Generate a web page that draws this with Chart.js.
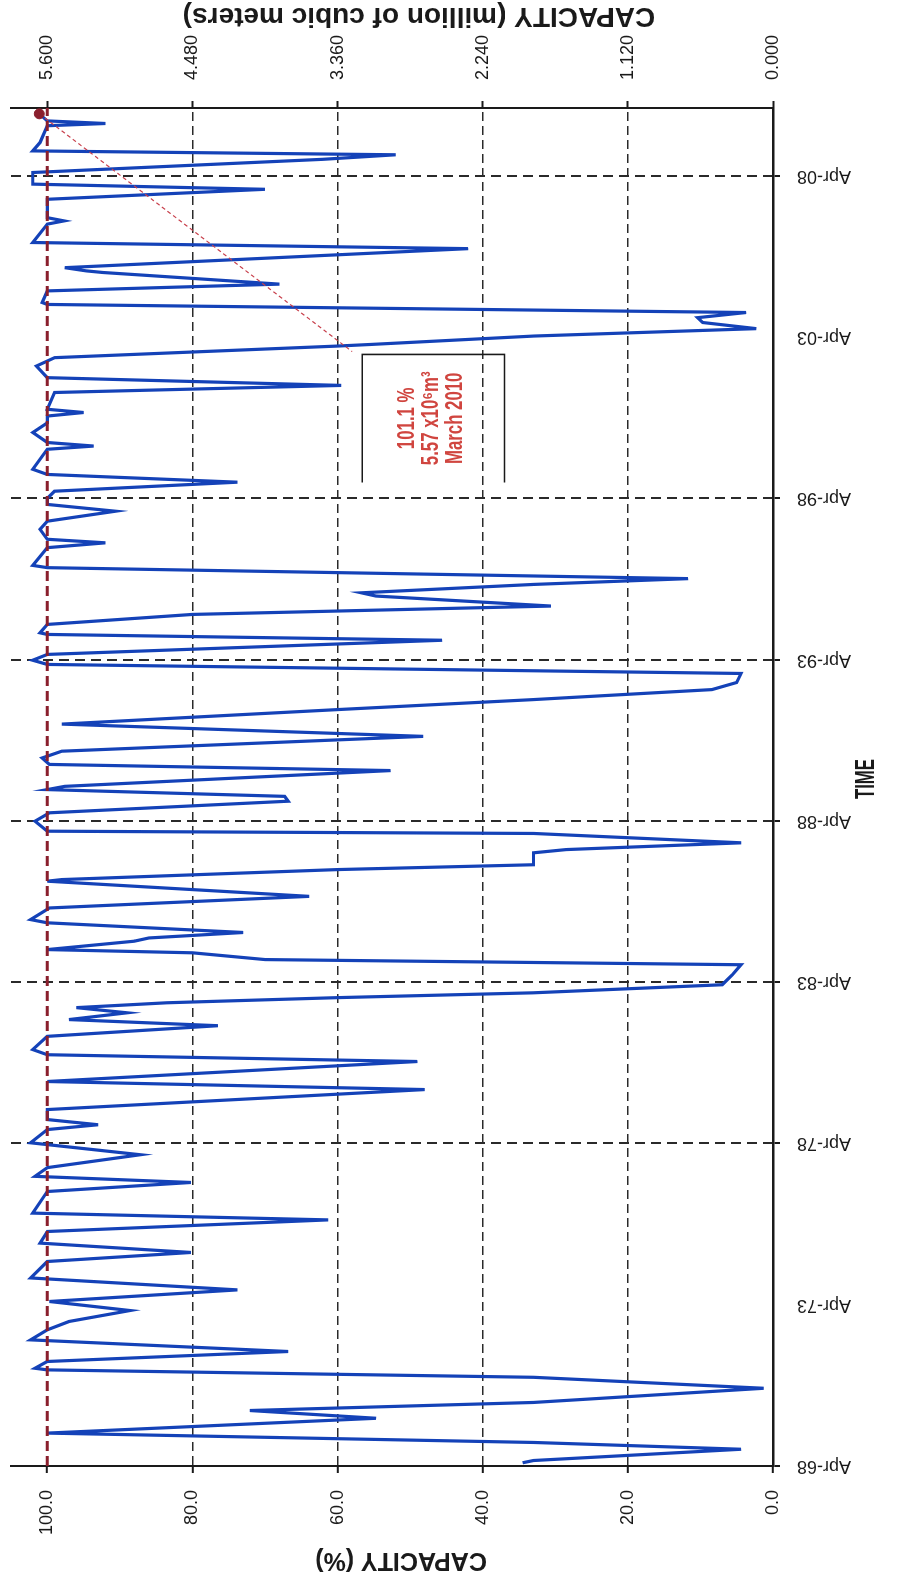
<!DOCTYPE html>
<html>
<head>
<meta charset="utf-8">
<title>Reservoir capacity 1968-2010</title>
<script src="https://cdn.jsdelivr.net/npm/chart.js@4.4.1/dist/chart.umd.min.js"></script>
<style>
  html, body { margin: 0; padding: 0; background: #fff; overflow: hidden; }
  /* chart is laid out landscape, then turned a quarter to fit the portrait page */
  #wrap {
    position: absolute; left: 0; top: 0;
    width: 1582px; height: 906px;
    transform-origin: 0 0;
    transform: translateY(1582px) rotate(-90deg);
  }
</style>
</head>
<body>
<div id="wrap"><canvas id="myChart" width="1582" height="906"></canvas></div>
<script>
// storage record: decimal year -> % of full supply
const years = [
  1968.35, 1968.42, 1968.77, 1968.98, 1969.27, 1969.73, 1969.97, 1970.22, 1970.66, 1971.00,
  1971.23, 1971.28, 1971.49, 1971.80, 1972.16, 1972.47, 1972.73, 1973.07, 1973.35, 1973.71,
  1974.08, 1974.59, 1974.87, 1975.16, 1975.52, 1975.88, 1976.09, 1976.76, 1977.04, 1977.23,
  1977.50, 1977.90, 1978.27, 1978.68, 1978.83, 1978.99, 1979.30, 1979.92, 1980.17, 1980.79,
  1981.00, 1981.16, 1981.57, 1981.90, 1982.09, 1982.30, 1982.46, 1982.61, 1982.77, 1982.92,
  1983.17, 1983.48, 1983.79, 1983.86, 1983.95, 1984.16, 1984.26, 1984.52, 1984.62, 1984.79,
  1985.09, 1985.19, 1985.55, 1985.91, 1986.38, 1986.43, 1986.74, 1986.89, 1987.26, 1987.36,
  1987.57, 1987.86, 1987.93, 1988.24, 1988.50, 1988.86, 1989.01, 1989.22, 1989.32, 1989.81,
  1990.00, 1990.20, 1990.41, 1990.87, 1991.25, 1991.70, 1992.01, 1992.32, 1992.54, 1992.82,
  1993.10, 1993.23, 1993.41, 1993.85, 1994.03, 1994.08, 1994.34, 1994.65, 1994.91, 1995.22,
  1995.32, 1995.58, 1995.76, 1996.10, 1996.17, 1996.72, 1996.87, 1996.98, 1997.29, 1997.54,
  1997.85, 1998.06, 1998.25, 1998.47, 1998.75, 1998.99, 1999.15, 1999.77, 1999.87, 1999.98,
  2000.29, 2000.59, 2000.80, 2000.91, 2001.01, 2001.53, 2001.75, 2001.99, 2002.35, 2002.61,
  2002.97, 2003.02, 2003.28, 2003.51, 2003.70, 2003.85, 2004.01, 2004.26, 2004.32, 2004.68,
  2004.89, 2005.25, 2005.30, 2005.40, 2005.99, 2006.18, 2006.75, 2006.85, 2006.95, 2007.52,
  2007.83, 2007.99, 2008.35, 2008.76, 2008.90, 2009.02, 2009.28, 2009.80, 2009.87, 2009.95,
  2010.17
];
const capacity = [
  34.5, 33, 4.4, 33, 100, 54.7, 72.1, 33, 1.3, 33,
  100, 101.7, 100, 66.8, 102.3, 100, 97, 88.6, 99.7, 73.8,
  102.3, 100, 80.2, 101, 100, 61.3, 102, 100, 80.2, 101.7,
  100, 87.2, 102.3, 100, 93, 100, 100, 48, 100, 49,
  100, 102, 100, 76.5, 97, 89, 96, 83.6, 60, 33,
  7, 5.6, 4.4, 33, 70, 80, 100, 88, 86, 73,
  100, 102.3, 99.7, 63.9, 100, 98, 60, 33, 33, 28.5,
  4.4, 33, 100, 101.7, 99.7, 66.8, 67.3, 100, 97.6, 52.7,
  99.7, 100.7, 98, 48.2, 98, 60, 33, 8.4, 5, 4.4,
  100, 102, 100, 45.6, 100, 101, 100, 80, 30.6, 54.7,
  56.7, 33, 11.7, 100, 102, 100, 92, 100, 101, 100,
  90.6, 100, 100, 99, 73.8, 100, 102, 100, 93.6, 100,
  102, 100, 100, 95, 100, 99, 59.5, 100, 101.5, 99,
  60, 55.4, 33, 2.3, 9.7, 10.4, 3.7, 100, 100.7, 100,
  68, 92.3, 94.6, 97.6, 42, 102, 100, 97.7, 100, 100,
  70, 102, 102, 62, 52, 102, 101, 100, 92, 100,
  101.1
];

// time axis: April of every fifth year
const tickYears = [1968.25, 1973.25, 1978.25, 1983.25, 1988.25, 1993.25, 1998.25, 2003.25, 2008.25];
const tickLabels = ['Apr-68', 'Apr-73', 'Apr-78', 'Apr-83', 'Apr-88', 'Apr-93', 'Apr-98', 'Apr-03', 'Apr-08'];
const noGridYears = [1973.25, 2003.25];
const pctTicks = [0, 20, 40, 60, 80, 100];
const volTicks = [0, 1.12, 2.24, 3.36, 4.48, 5.6];   // million m3
const volPerPct = 0.056;
const pctMax = 105;
const yearMin = 1968.25, yearMax = 2010.35;

const fullSupply = 100;
const latest = { x: 2010.17, y: 101.1 };               // March 2010 reading
const calloutText = ['101.1 %', '5.57 x10\u2076m\u00B3', 'March 2010'];
const calloutBox = { from: 1998.74, to: 2002.71, low: 37.0, high: 56.6 };
const leaderEnd = { x: 2002.80, y: 58.0 };
const calloutAt = { x: 2000.73, y: 47.1 };

Chart.defaults.font.family = "'Liberation Sans', Arial, sans-serif";

const ink = '#1a1a1a';
const maroon = '#8a1f2d';

// vertical axes: keep the label overhang out of the layout
function noLabelOverhang(s) {
  s.paddingTop = 0;
  s.paddingBottom = 0;
}

// axis titles and the callout text
const chartText = {
  id: 'chartText',
  afterDraw(chart) {
    const { ctx, chartArea: a, scales } = chart;
    const midY = (a.top + a.bottom) / 2;
    ctx.save();
    ctx.fillStyle = ink;
    ctx.textAlign = 'center';
    ctx.textBaseline = 'middle';

    ctx.font = "bold 25px 'Liberation Sans', Arial, sans-serif";
    ctx.save();
    ctx.translate(a.left - 94, midY + 9);
    ctx.rotate(-Math.PI / 2);
    ctx.fillText('CAPACITY (%)', 0, 0);
    ctx.restore();

    ctx.font = "bold 28px 'Liberation Sans', Arial, sans-serif";
    ctx.save();
    ctx.translate(a.right + 92, midY + 27);
    ctx.rotate(-Math.PI / 2);
    ctx.fillText('CAPACITY (million of cubic meters)', 0, 0);
    ctx.restore();

    ctx.font = "bold 28px 'Liberation Sans', Arial, sans-serif";
    ctx.save();
    ctx.translate((a.left + a.right) / 2 + 8, a.bottom + 93);
    ctx.scale(0.6, 1);
    ctx.fillText('TIME', 0, 0);
    ctx.restore();

    ctx.fillStyle = '#d0453f';
    ctx.font = "bold 24px 'Liberation Sans', Arial, sans-serif";
    const cx = scales.x.getPixelForValue(calloutAt.x);
    const cy = scales.y.getPixelForValue(calloutAt.y);
    calloutText.forEach((t, i) => {
      ctx.save();
      ctx.translate(cx, cy + (i - 1) * 24);
      ctx.scale(0.7, 1);
      ctx.fillText(t, 0, 0);
      ctx.restore();
    });
    ctx.restore();
  }
};

const ctx = document.getElementById('myChart');

new Chart(ctx, {
  type: 'line',
  data: {
    datasets: [
      {
        label: 'Latest',
        data: [latest],
        showLine: false,
        pointRadius: 5,
        pointBackgroundColor: maroon,
        pointBorderColor: maroon,
        clip: false
      },
      {
        label: 'Full supply',
        data: [{ x: yearMin, y: fullSupply }, { x: yearMax, y: fullSupply }],
        borderColor: maroon,
        borderWidth: 3,
        borderDash: [10, 5],
        pointRadius: 0
      },
      {
        label: 'Leader',
        data: [latest, leaderEnd],
        borderColor: '#c8404c',
        borderWidth: 1.2,
        borderDash: [4, 3],
        pointRadius: 0
      },
      {
        label: 'Callout',
        data: [
          { x: calloutBox.from, y: calloutBox.high },
          { x: calloutBox.to, y: calloutBox.high },
          { x: calloutBox.to, y: calloutBox.low },
          { x: calloutBox.from, y: calloutBox.low }
        ],
        borderColor: ink,
        borderWidth: 1.6,
        pointRadius: 0
      },
      {
        label: 'Capacity',
        data: years.map((x, i) => ({ x: x, y: capacity[i] })),
        borderColor: '#1442b8',
        borderWidth: 3.2,
        pointRadius: 0,
        tension: 0
      }
    ]
  },
  options: {
    responsive: false,
    animation: false,
    layout: { padding: { top: 11, left: 0, right: 0, bottom: 0 } },
    plugins: {
      legend: { display: false },
      tooltip: { enabled: false }
    },
    scales: {
      x: {
        type: 'linear',
        position: 'bottom',
        min: yearMin,
        max: yearMax,
        afterBuildTicks: function (s) { s.ticks = tickYears.map(v => ({ value: v })); },
        afterFit: function (s) { s.height = 133; },
        ticks: {
          autoSkip: false,
          minRotation: 90,
          maxRotation: 90,
          padding: 17,
          color: ink,
          font: { size: 18 },
          callback: function (v, i) { return tickLabels[i]; }
        },
        grid: {
          color: c => noGridYears.includes(c.tick.value) ? 'rgba(0,0,0,0)' : '#2a2a2a',
          lineWidth: 2,
          tickLength: 7,
          tickWidth: 2,
          tickBorderDash: [],
          tickColor: c => noGridYears.includes(c.tick.value) ? 'rgba(0,0,0,0)' : ink
        },
        border: { display: true, color: ink, width: 2.5, dash: [10, 6] }
      },
      y: {
        position: 'left',
        min: 0,
        max: pctMax,
        afterBuildTicks: function (s) { s.ticks = pctTicks.map(v => ({ value: v })); },
        afterFit: function (s) { s.width = 116; noLabelOverhang(s); },
        ticks: {
          padding: 17,
          color: ink,
          font: { size: 18 },
          callback: v => v.toFixed(1)
        },
        grid: {
          color: c => c.tick.value === fullSupply ? 'rgba(0,0,0,0)' : '#2a2a2a',
          lineWidth: 1.6,
          tickLength: 7,
          tickWidth: 2,
          tickBorderDash: [],
          tickColor: ink
        },
        border: { display: true, color: ink, width: 2, dash: [9, 5] }
      },
      y2: {
        position: 'right',
        min: 0,
        max: pctMax * volPerPct,
        afterBuildTicks: function (s) { s.ticks = volTicks.map(v => ({ value: v })); },
        afterFit: function (s) { s.width = 108; noLabelOverhang(s); },
        ticks: {
          padding: 21,
          color: ink,
          font: { size: 18 },
          callback: v => v.toFixed(3)
        },
        grid: {
          drawOnChartArea: false,
          tickLength: 7,
          tickWidth: 2,
          tickBorderDash: [],
          tickColor: ink
        },
        border: { display: true, color: ink, width: 2 }
      }
    }
  },
  plugins: [chartText]
});
</script>
</body>
</html>
